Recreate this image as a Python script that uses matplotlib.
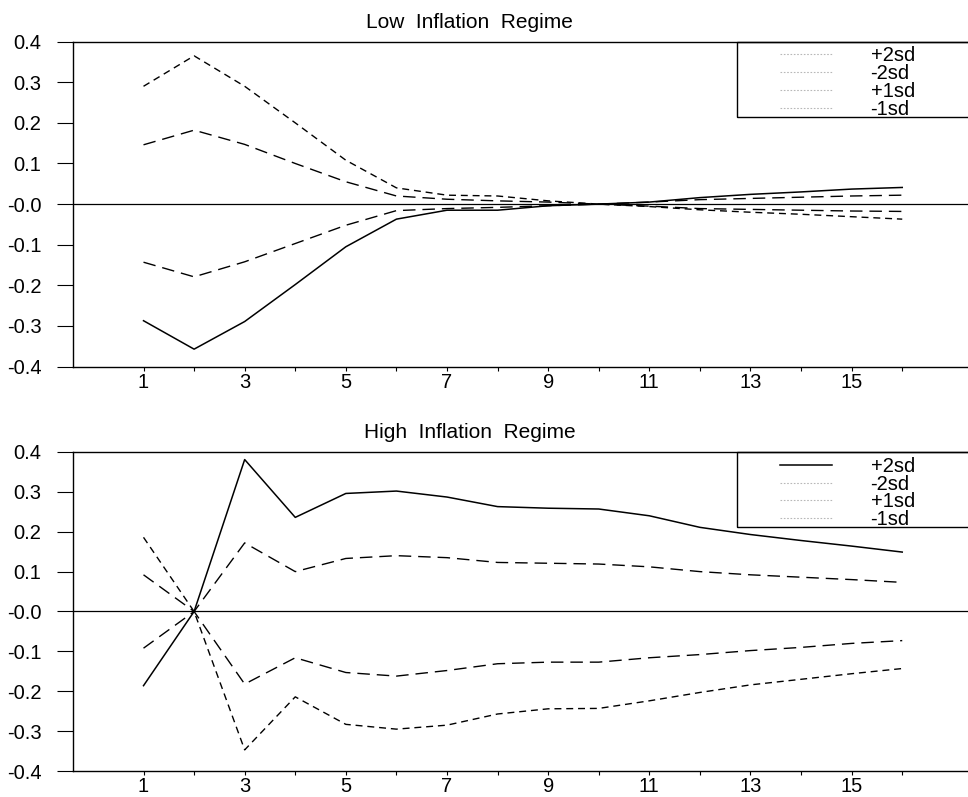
import numpy as np
import matplotlib
matplotlib.use('Agg')
from matplotlib import pyplot as plt
from matplotlib.lines import Line2D
from matplotlib.patches import Rectangle

plt.rcParams['font.family'] = ['Liberation Sans', 'DejaVu Sans']

steps = list(range(1, 17))
xtick_labels = ['1', '', '3', '', '5', '', '7', '', '9', '', '11', '', '13', '', '15', '']
ytick_values = [0.4, 0.3, 0.2, 0.1, 0.0, -0.1, -0.2, -0.3, -0.4]
ytick_labels = ['0.4', '0.3', '0.2', '0.1', '-0.0', '-0.1', '-0.2', '-0.3', '-0.4']
legend_labels = ['+2sd', '-2sd', '+1sd', '-1sd']

# low inflation regime
low_short = [0.29, 0.365, 0.29, 0.20, 0.108, 0.04, 0.022, 0.02, 0.008, 0.0,
             -0.006, -0.014, -0.02, -0.025, -0.031, -0.037]
low_long_up = [0.146, 0.182, 0.147, 0.10, 0.055, 0.02, 0.012, 0.008, 0.005, 0.0,
               -0.005, -0.011, -0.013, -0.015, -0.017, -0.018]
low_long_dn = [-0.143, -0.179, -0.142, -0.097, -0.052, -0.016, -0.011, -0.008, -0.004, 0.0,
               0.005, 0.011, 0.014, 0.017, 0.02, 0.022]
low_solid = [-0.287, -0.357, -0.289, -0.198, -0.105, -0.037, -0.015, -0.015, -0.004, 0.0,
             0.005, 0.016, 0.024, 0.03, 0.037, 0.041]

# high inflation regime
high_solid = [-0.186, 0.0, 0.381, 0.236, 0.296, 0.302, 0.287, 0.263, 0.259, 0.257,
              0.240, 0.211, 0.193, 0.178, 0.164, 0.149]
high_long_up = [0.092, 0.0, 0.172, 0.10, 0.133, 0.14, 0.135, 0.123, 0.121, 0.119,
                0.112, 0.10, 0.092, 0.086, 0.08, 0.073]
high_long_dn = [-0.092, 0.0, -0.182, -0.116, -0.153, -0.162, -0.148, -0.131, -0.127, -0.127,
                -0.116, -0.108, -0.098, -0.09, -0.08, -0.073]
high_short = [0.186, 0.0, -0.347, -0.214, -0.283, -0.295, -0.285, -0.257, -0.244, -0.243,
              -0.224, -0.203, -0.184, -0.17, -0.156, -0.143]

long_dash = (9, 5)
short_dash = (5, 3.5)


def draw_panel(ax, title, short, long_up, long_dn, solid, solid_in_legend, box_bottom):
    ax.plot(steps, short, color='black', lw=1.0, dashes=short_dash)
    ax.plot(steps, long_up, color='black', lw=1.0, dashes=long_dash)
    ax.plot(steps, long_dn, color='black', lw=1.0, dashes=long_dash)
    ax.plot(steps, solid, color='black', lw=1.1)
    ax.axhline(0, color='black', lw=0.9)

    ax.set_xlim(-0.4, 17.3)
    ax.set_ylim(-0.4, 0.4)
    ax.set_xticks(steps)
    ax.set_xticklabels(xtick_labels)
    ax.set_yticks(ytick_values)
    ax.set_yticklabels(ytick_labels)
    ax.tick_params(axis='y', direction='out', length=11.5, width=0.8, pad=11, labelsize=14.5)
    ax.tick_params(axis='x', direction='out', length=3, width=0.8, pad=1.5, labelsize=14.5)
    ax.spines['right'].set_visible(False)
    for s in ['left', 'top', 'bottom']:
        ax.spines[s].set_linewidth(1.0)

    ax.text(0.443, 1.043, title, transform=ax.transAxes, ha='center', va='baseline',
            fontsize=15)

    ax.add_patch(Rectangle((0.742, box_bottom), 0.4, 1 - box_bottom, transform=ax.transAxes,
                           fill=False, lw=1.0, ec='black', clip_on=False))

    faint = dict(color='#b8b8b8', lw=0.8, linestyle=(0, (1.5, 1.5)))
    handles = []
    for i, lab in enumerate(legend_labels):
        if i == 0 and solid_in_legend:
            handles.append(Line2D([], [], color='black', lw=1.1))
        else:
            handles.append(Line2D([], [], **faint))
    ax.legend(handles, legend_labels, loc='upper left', bbox_to_anchor=(0.79, 0.985),
              frameon=False, fontsize=14.5, handlelength=2.6, handletextpad=1.9,
              labelspacing=-0.06, borderpad=0, borderaxespad=0)


fig = plt.figure(figsize=(9.68, 7.97), dpi=100)
ax1 = fig.add_axes([0.0751, 0.540, 0.9249, 0.4078])
ax2 = fig.add_axes([0.0751, 0.0326, 0.9249, 0.4003])

draw_panel(ax1, 'Low  Inflation  Regime', low_short, low_long_up, low_long_dn, low_solid,
           False, 0.768)
draw_panel(ax2, 'High  Inflation  Regime', high_short, high_long_up, high_long_dn, high_solid,
           True, 0.766)

plt.savefig('out.png', dpi=100)
